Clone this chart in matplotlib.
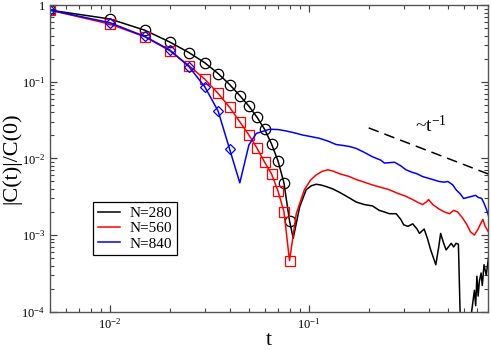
import math
import matplotlib
matplotlib.use("Agg")
import matplotlib.pyplot as plt
from matplotlib.ticker import FuncFormatter, LogLocator, NullFormatter

plt.rcParams['font.family'] = ['Liberation Serif', 'DejaVu Serif']
plt.rcParams['mathtext.fontset'] = 'custom'
plt.rcParams['mathtext.rm'] = 'Liberation Serif'
plt.rcParams['mathtext.it'] = 'Liberation Serif:italic'

# marker points, t = 0.005 ... step 0.005
t_mark = [0.005, 0.01, 0.015, 0.02, 0.025, 0.03, 0.035, 0.04,
          0.045, 0.05, 0.055, 0.06, 0.065, 0.07, 0.075, 0.08]

c280_mark = [0.86, 0.66, 0.47, 0.33, 0.24, 0.177, 0.128, 0.092,
             0.066, 0.048, 0.0343, 0.0239, 0.0154, 0.0093, 0.0048, 0.00153]
c560_mark = [0.86, 0.565, 0.386, 0.254, 0.162, 0.108, 0.0706, 0.0463,
             0.030, 0.0202, 0.0135, 0.0089, 0.00626, 0.00376, 0.00202, 0.000464]
c840_mark = [0.86, 0.59, 0.39, 0.26, 0.157, 0.086, 0.0415, 0.0132]

# tails (line only)
t280_tail = [0.0835, 0.09, 0.097, 0.103, 0.109, 0.115, 0.122, 0.132, 0.143, 0.155,
             0.173, 0.19, 0.209, 0.226, 0.24, 0.254, 0.275, 0.29, 0.3, 0.315,
             0.333, 0.35, 0.36, 0.38, 0.395, 0.41, 0.435, 0.45, 0.46, 0.475,
             0.49, 0.52, 0.535, 0.55, 0.565, 0.58, 0.64, 0.655, 0.68, 0.69,
             0.70, 0.71, 0.72, 0.735, 0.745, 0.76, 0.78, 0.8]
c280_tail = [0.00091, 0.00234, 0.0039, 0.0044, 0.0046, 0.0045, 0.0043, 0.0040, 0.0036, 0.0032,
             0.0027, 0.0025, 0.0024, 0.0021, 0.0020, 0.0019, 0.0019, 0.0016, 0.00136, 0.0013,
             0.0014, 0.0012, 0.00105, 0.0012, 0.0009, 0.00064, 0.00041, 0.0007, 0.00105, 0.0008,
             0.00064, 0.00078, 0.0007, 0.00078, 0.00076, 0.00005, 0.00005, 0.00009, 0.00019, 0.00012,
             0.00029, 0.00016, 0.00025, 0.00032, 0.00022, 0.00041, 0.0003, 0.0005]

t560_tail = [0.0865, 0.095, 0.102, 0.109, 0.117, 0.125, 0.133, 0.143, 0.16, 0.173,
             0.19, 0.209, 0.23, 0.254, 0.28, 0.308, 0.333, 0.35, 0.373, 0.39,
             0.4, 0.42, 0.45, 0.48, 0.51, 0.535, 0.56, 0.59, 0.62, 0.65,
             0.68, 0.71, 0.73, 0.75, 0.77, 0.8]
c560_tail = [0.0019, 0.0039, 0.0052, 0.0061, 0.0068, 0.0071, 0.0068, 0.0063, 0.0058, 0.0053,
             0.0049, 0.0045, 0.0042, 0.0039, 0.0035, 0.0032, 0.0029, 0.0027, 0.0025, 0.0027,
             0.0029, 0.0025, 0.0022, 0.0020, 0.0019, 0.0021, 0.0020, 0.0017, 0.0014, 0.0011,
             0.0010, 0.0012, 0.0014, 0.0016, 0.0013, 0.0011]

t840_tail = [0.045, 0.05, 0.0545, 0.0635, 0.07, 0.077, 0.085, 0.093, 0.103, 0.113,
             0.125, 0.137, 0.15, 0.16, 0.173, 0.19, 0.209, 0.23, 0.24, 0.254,
             0.27, 0.29, 0.308, 0.33, 0.35, 0.373, 0.4, 0.43, 0.452, 0.48,
             0.5, 0.53, 0.55, 0.58, 0.6, 0.63, 0.66, 0.69, 0.71, 0.74,
             0.76, 0.78, 0.8]
c840_tail = [0.0048, 0.015, 0.0212, 0.024, 0.0238, 0.0228, 0.0215, 0.0202, 0.0192, 0.0183,
             0.0168, 0.0152, 0.0147, 0.0143, 0.0135, 0.0120, 0.0105, 0.0095, 0.0087, 0.0088,
             0.0089, 0.008, 0.0071, 0.0066, 0.0063, 0.0058, 0.0055, 0.0052, 0.005, 0.0049,
             0.005, 0.0045, 0.0039, 0.0034, 0.0030, 0.0031, 0.0032, 0.0033, 0.0031, 0.0030,
             0.0026, 0.0022, 0.0018]

labels = ['N=280', 'N=560', 'N=840']
colors = ['black', 'red', 'blue']

fig = plt.figure(figsize=(4.91, 3.5), dpi=100)
ax = fig.add_axes([0.1018, 0.1094, 0.893, 0.876])

series = [
    (c280_mark, t280_tail, c280_tail, 'o'),
    (c560_mark, t560_tail, c560_tail, 's'),
    (c840_mark, t840_tail, c840_tail, 'D'),
]
for (cm, tt, ct, mk), lab, col in zip(series, labels, colors):
    tm = t_mark[:len(cm)]
    ax.plot(tm + tt, cm + ct, color=col, lw=1.1, label=lab)
    ms = 7.5 if mk != 'D' else 5.5
    ax.plot(tm, cm, linestyle='none', marker=mk, ms=ms, mfc='none',
            mec=col, mew=0.9)

# ~ t^-1 guide
t_guide = [0.2, 0.8]
c_guide = [0.025, 0.025 * 0.2 / 0.8]
ax.plot(t_guide, c_guide, color='black', lw=1.1, ls=(0, (7, 4)))
ax.text(0.413, 0.0265, r'~t$^{-1}$', fontsize=14, ha='center', va='center')

ax.set_xscale('log')
ax.set_yscale('log')
ax.set_xlim(0.005, 0.8)
ax.set_ylim(1e-4, 1)

def fmt(v, pos):
    if abs(v - 1) < 1e-9:
        return '1'
    e = int(round(math.log10(v)))
    return r'$10^{%d}$' % e

ax.xaxis.set_major_locator(LogLocator(base=10, numticks=10))
ax.yaxis.set_major_locator(LogLocator(base=10, numticks=10))
ax.xaxis.set_minor_locator(LogLocator(base=10, subs=range(2, 10), numticks=20))
ax.yaxis.set_minor_locator(LogLocator(base=10, subs=range(2, 10), numticks=20))
ax.xaxis.set_major_formatter(FuncFormatter(fmt))
ax.yaxis.set_major_formatter(FuncFormatter(fmt))
ax.xaxis.set_minor_formatter(NullFormatter())
ax.yaxis.set_minor_formatter(NullFormatter())

ax.tick_params(which='both', direction='in', top=True, right=True,
               colors='#444444', labelcolor='black', labelsize=9)
ax.tick_params(which='major', length=5, width=0.9)
ax.tick_params(which='minor', length=3, width=0.8)
for s in ax.spines.values():
    s.set_color('#555555')
    s.set_linewidth(1.0)

ax.set_xlabel('t', fontsize=16, labelpad=0)
ax.set_ylabel('|C(t)|/C(0)', fontsize=16, labelpad=0)

leg = ax.legend(loc='upper left', bbox_to_anchor=(0.098, 0.358), fontsize=11,
                handlelength=1.5, handletextpad=0.6, borderpad=0.3,
                labelspacing=0.1, borderaxespad=0, fancybox=False, framealpha=1)
leg.get_frame().set_edgecolor('black')
leg.get_frame().set_linewidth(0.9)

fig.savefig('out.png', dpi=100)
